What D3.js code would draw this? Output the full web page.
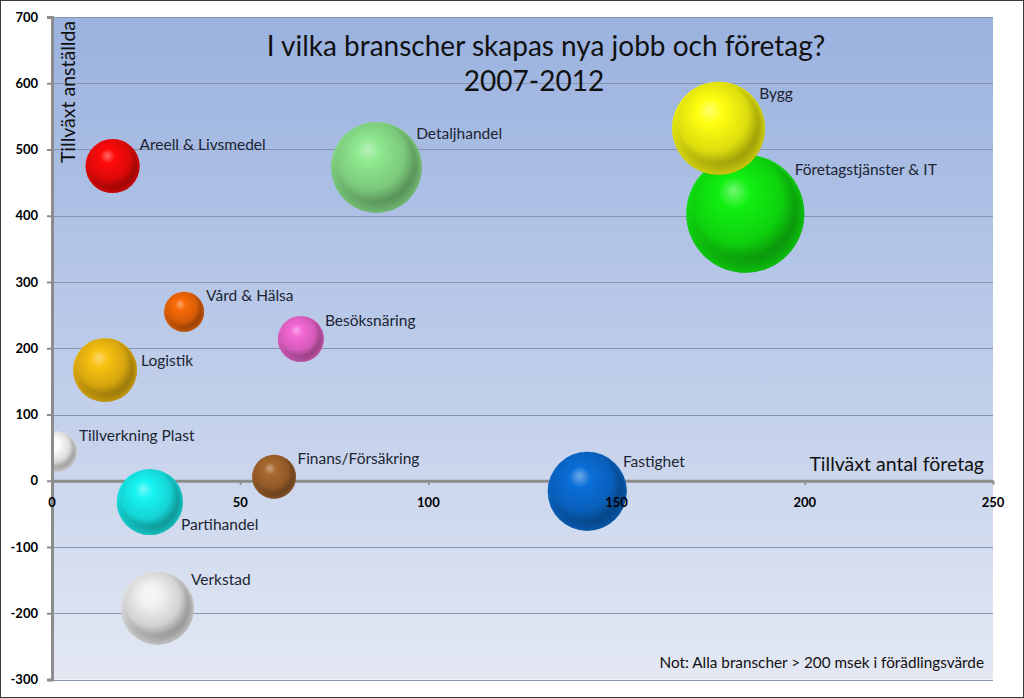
<!DOCTYPE html>
<html><head><meta charset="utf-8">
<script src="https://cdn.jsdelivr.net/npm/d3@7"></script>
<style>body{margin:0;background:#fff}svg{display:block}text{font-family:Lato,"Open Sans",sans-serif}</style>
</head><body><svg id="c" width="1024" height="698"></svg>
<script>
const categories = ["Areell & Livsmedel","Detaljhandel","Bygg","Företagstjänster & IT","Vård & Hälsa","Besöksnäring","Logistik","Tillverkning Plast","Finans/Försäkring","Partihandel","Fastighet","Verkstad"];
const growthFirms = [16.1, 86.2, 177.1, 184.2, 35.1, 66.1, 14.1, 1.3, 59.0, 26.0, 142.2, 28.0];
const growthEmployees = [475, 473, 532, 403, 255, 214, 167, 44, 6, -32, -16, -192];
const bubbleSize = [730, 2050, 2160, 3480, 400, 530, 1020, 400, 480, 1090, 1560, 1330];
const bubbleColors = ["#ff0a0a","#8ee88e","#ffff10","#10f010","#f86a08","#f468d4","#f8c010","#ffffff","#a8682e","#18f4f4","#0a6ed8","#f2f2f2"];
const labelPlacement = ["upper-right","upper-right","upper-right","upper-right","upper-right","upper-right","right","upper-right","upper-right","lower-right","upper-right","upper-right"];
const xTicks = [0, 50, 100, 150, 200, 250];
const yTicks = [-300, -200, -100, 0, 100, 200, 300, 400, 500, 600, 700];
const titleLines = ["I vilka branscher skapas nya jobb och företag?", "2007-2012"];
const xTitle = "Tillväxt antal företag";
const yTitle = "Tillväxt anställda";
const note = "Not: Alla branscher > 200 msek i förädlingsvärde";

const svg = d3.select("#c");
const L = 52, R = 993, T = 17, B = 679.5;
const x = d3.scaleLinear().domain([0, 250]).range([L, R]);
const y = d3.scaleLinear().domain([-300, 700]).range([B, T]);
const rScale = d3.scaleSqrt().domain([0, d3.max(bubbleSize)]).range([0, 59]);

const defs = svg.append("defs");
const bg = defs.append("linearGradient").attr("id","bg").attr("x1",0).attr("y1",0).attr("x2",0).attr("y2",1);
bg.append("stop").attr("offset","0%").attr("stop-color","#9ab2df");
bg.append("stop").attr("offset","50%").attr("stop-color","#bccbe9");
bg.append("stop").attr("offset","100%").attr("stop-color","#e3e8f3");
defs.append("clipPath").attr("id","plotclip").append("rect").attr("x",L+2).attr("y",T).attr("width",R-L).attr("height",B-T);

svg.append("rect").attr("x",0.5).attr("y",0.5).attr("width",1023).attr("height",697).attr("fill","#fff").attr("stroke","#3a3a3a");
svg.append("rect").attr("x",L).attr("y",T).attr("width",R-L).attr("height",B-T).attr("fill","url(#bg)");

// gridlines
svg.append("g").selectAll("line").data(yTicks.filter(d=>d!==0)).join("line")
  .attr("x1",L).attr("x2",R).attr("y1",d=>Math.round(y(d))+0.5).attr("y2",d=>Math.round(y(d))+0.5)
  .attr("stroke","#8794ab").attr("stroke-width",1.2);

// axes lines
const yAxis = d3.axisLeft(y).tickValues(yTicks).tickSize(5).tickFormat("");
const gy = svg.append("g").attr("transform",`translate(${L},0)`).call(yAxis);
gy.selectAll("path,line").attr("stroke","#8c8c8c");
gy.select("path").attr("stroke-width",3);
gy.selectAll("line").attr("stroke-width",2);

const xAxis = d3.axisBottom(x).tickValues(xTicks).tickSize(4).tickSizeOuter(0).tickFormat("");
const gx = svg.append("g").attr("transform",`translate(0,${y(0)})`).call(xAxis);
gx.selectAll("path,line").attr("stroke","#8c8c8c");
gx.select("path").attr("stroke-width",3);
gx.selectAll("line").attr("stroke-width",2);

// bubbles (largest drawn first so smaller ones sit on top)
const data = categories.map((c,i)=>({name:c, x:growthFirms[i], y:growthEmployees[i], s:bubbleSize[i], color:bubbleColors[i], place:labelPlacement[i], i}));
const drawOrder = data.slice().sort((a,b)=>b.s-a.s);
data.forEach(d=>{
  const base = d3.color(d.color);
  const g = defs.append("radialGradient").attr("id","g"+d.i)
    .attr("cx","44%").attr("cy","40%").attr("r","62%").attr("fx","40%").attr("fy","30%");
  const light = d3.interpolateRgb(base, "#ffffff")(0.4);
  g.append("stop").attr("offset","0%").attr("stop-color",light);
  g.append("stop").attr("offset","22%").attr("stop-color",base.formatHex());
  g.append("stop").attr("offset","62%").attr("stop-color",base.darker(0.4).formatHex());
  g.append("stop").attr("offset","85%").attr("stop-color",base.darker(1.4).formatHex());
  g.append("stop").attr("offset","100%").attr("stop-color",base.darker(2.1).formatHex());
  const rim = defs.append("radialGradient").attr("id","rim"+d.i)
    .attr("cx","50%").attr("cy","50%").attr("r","50%").attr("fx","45%").attr("fy","5%");
  rim.append("stop").attr("offset","86%").attr("stop-color",base.formatHex()).attr("stop-opacity",0);
  rim.append("stop").attr("offset","100%").attr("stop-color",base.formatHex()).attr("stop-opacity",0.6);
});
const bub = svg.append("g").attr("clip-path","url(#plotclip)");
const bg2 = bub.selectAll("g.bubble").data(drawOrder).join("g").attr("class","bubble");
bg2.append("circle")
  .attr("cx",d=>x(d.x)).attr("cy",d=>y(d.y)).attr("r",d=>rScale(d.s))
  .attr("fill",d=>"url(#g"+d.i+")");
bg2.append("circle")
  .attr("cx",d=>x(d.x)).attr("cy",d=>y(d.y)).attr("r",d=>rScale(d.s))
  .attr("fill",d=>"url(#rim"+d.i+")");

// data labels
svg.append("g").selectAll("text").data(data).join("text")
  .attr("x",d=>{const r=rScale(d.s); return d.place==="right" ? x(d.x)+r+4 : x(d.x)+0.7*r+8;})
  .attr("y",d=>{const r=rScale(d.s); return d.place==="right" ? y(d.y)-4 : d.place==="lower-right" ? y(d.y)+0.7*r+5 : y(d.y)-0.7*r+3;})
  .attr("font-size",15.5).attr("fill","#1c2433").text(d=>d.name);

// tick labels
svg.append("g").selectAll("text").data(yTicks).join("text")
  .attr("x",38).attr("y",d=>y(d)).attr("dy","0.35em").attr("text-anchor","end")
  .attr("font-size",13).attr("font-weight","bold").attr("fill","#000").text(d=>d);
svg.append("g").selectAll("text").data(xTicks).join("text")
  .attr("x",d=>x(d)).attr("y",y(0)+26).attr("text-anchor","middle")
  .attr("font-size",13).attr("font-weight","bold").attr("fill","#000").text(d=>d);

// titles
svg.append("text").attr("x",546).attr("y",56).attr("text-anchor","middle").attr("font-size",28).attr("fill","#111").text(titleLines[0]);
svg.append("text").attr("x",534).attr("y",91).attr("text-anchor","middle").attr("font-size",28).attr("fill","#111").text(titleLines[1]);
svg.append("text").attr("transform","translate(75,21) rotate(-90)").attr("text-anchor","end").attr("font-size",19.5).attr("fill","#111").text(yTitle);
svg.append("text").attr("x",984).attr("y",471).attr("text-anchor","end").attr("font-size",19.5).attr("fill","#111").text(xTitle);
svg.append("text").attr("x",984).attr("y",668).attr("text-anchor","end").attr("font-size",15.3).attr("fill","#111").text(note);
</script></body></html>
